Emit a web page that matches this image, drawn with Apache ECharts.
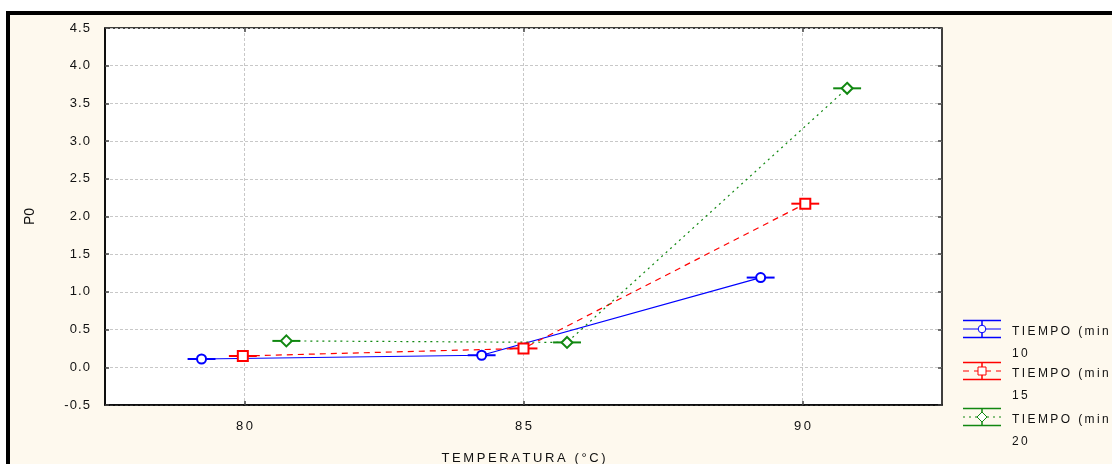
<!DOCTYPE html>
<html><head><meta charset="utf-8">
<script src="https://cdn.jsdelivr.net/npm/echarts@6/dist/echarts.min.js"></script>
<style>html,body{margin:0;padding:0;background:#fff}#c{width:1112px;height:464px}</style>
</head><body><div id="c"></div>
<script>
// ---- data ----
const legendLabel = 'TIEMPO (min';
const seriesLevels = ['10', '15', '20'];
const temp10 = [79.23, 84.25, 89.25];
const p10 = [0.11, 0.16, 1.19];
const temp15 = [79.97, 85.0, 90.05];
const p15 = [0.15, 0.25, 2.17];
const temp20 = [80.75, 85.78, 90.8];
const p20 = [0.35, 0.33, 3.70];
const errX10 = [0.25, 0.25, 0.25];
const errX15 = [0.25, 0.25, 0.25];
const errX20 = [0.25, 0.25, 0.25];
const xTickValues = [80, 85, 90];
const xTitle = 'TEMPERATURA (°C)';
const yTitle = 'P0';

// ---- helpers ----
function spaced(s, sp) { return String(s).split('').join(sp); }
const NBSP = '\u00A0', THIN = '\u2009', HAIR = '\u200A';
const FONT = 'Liberation Sans, Arial, sans-serif';
const FS = 13;
const TXT = '#111';
const colors = ['#0000ff', '#ff0000', '#118811'];
const lineTypes = ['solid', [6, 5], [2, 4]];
const symbols = ['emptyCircle', 'emptyRect', 'emptyDiamond'];
const symbolSizes = [9, 10, 11];
const temps = [temp10, temp15, temp20];
const ps = [p10, p15, p20];
const errs = [errX10, errX15, errX20];

const series = [];
for (let i = 0; i < 3; i++) {
  series.push({
    type: 'line',
    data: temps[i].map((x, k) => [x, ps[i][k]]),
    symbol: symbols[i], symbolSize: symbolSizes[i], showAllSymbol: true,
    lineStyle: { color: colors[i], width: 1.2, type: lineTypes[i] },
    itemStyle: { color: colors[i], borderWidth: 1 },
    z: 4, silent: true, animation: false
  });
  series.push({
    type: 'custom',
    data: temps[i].map((x, k) => [x, ps[i][k], errs[i][k]]),
    encode: { x: 0, y: 1 },
    renderItem: (params, api) => {
      const x = api.value(0), y = api.value(1), e = api.value(2);
      const a = api.coord([x - e, y]), b = api.coord([x + e, y]);
      return { type: 'line', shape: { x1: a[0], y1: a[1], x2: b[0], y2: b[1] },
        style: { stroke: colors[i], lineWidth: 2 } };
    },
    z: 3, silent: true, animation: false
  });
}

// legend drawn as graphics
const legendCenters = [329, 371, 417];
const graphics = [
  { type: 'rect', z: -10, shape: { x: 8, y: 13, width: 1200, height: 500 },
    style: { fill: '#fef9ee', stroke: '#000', lineWidth: 4 } }
];
for (let i = 0; i < 3; i++) {
  const c = legendCenters[i];
  graphics.push({ type: 'line', shape: { x1: 963, y1: c - 8.5, x2: 1001, y2: c - 8.5 }, style: { stroke: colors[i], lineWidth: 1.5 } });
  graphics.push({ type: 'line', shape: { x1: 963, y1: c + 8.5, x2: 1001, y2: c + 8.5 }, style: { stroke: colors[i], lineWidth: 1.5 } });
  graphics.push({ type: 'line', shape: { x1: 963, y1: c, x2: 1001, y2: c }, style: { stroke: colors[i], lineWidth: 1.2, lineDash: i === 0 ? null : lineTypes[i] } });
  graphics.push({ type: 'line', shape: { x1: 982, y1: c - 8.5, x2: 982, y2: c + 8.5 }, style: { stroke: colors[i], lineWidth: 1.5 } });
  if (i === 0) graphics.push({ type: 'circle', shape: { cx: 982, cy: c, r: 3.8 }, style: { fill: '#fff', stroke: colors[i], lineWidth: 1 } });
  if (i === 1) graphics.push({ type: 'rect', shape: { x: 978, y: c - 4, width: 8, height: 8 }, style: { fill: '#fff', stroke: colors[i], lineWidth: 1 } });
  if (i === 2) graphics.push({ type: 'polygon', shape: { points: [[982, c - 5], [987, c], [982, c + 5], [977, c]] }, style: { fill: '#fff', stroke: colors[i], lineWidth: 1 } });
  graphics.push({ type: 'text', x: 1012, y: c + 3, style: { text: spaced(legendLabel, THIN), font: '12px ' + FONT, fill: TXT, verticalAlign: 'middle' } });
  graphics.push({ type: 'text', x: 1012, y: c + 25, style: { text: spaced(seriesLevels[i], THIN), font: '12px ' + FONT, fill: TXT, verticalAlign: 'middle' } });
}

const chart = echarts.init(document.getElementById('c'), null, { renderer: 'canvas' });
const gridLine = { show: true, lineStyle: { color: '#c8c8c8', type: [3, 2], width: 1 } };
const tickStyle = { show: true, inside: true, length: 4, lineStyle: { color: '#444', width: 1.5 } };
chart.setOption({
  animation: false,
  backgroundColor: '#ffffff',
  textStyle: { fontFamily: FONT },
  graphic: { elements: graphics },
  grid: { left: 105, top: 28, right: 170, bottom: 59, show: true, containLabel: false, outerBoundsMode: 'none',
    backgroundColor: '#ffffff', borderColor: '#000', borderWidth: 1.5 },
  xAxis: [{
    type: 'value', min: 77.5, max: 92.5, position: 'bottom',
    name: spaced(xTitle, THIN), nameLocation: 'middle', nameGap: 47,
    nameTextStyle: { fontSize: FS, color: TXT, fontFamily: FONT },
    axisLine: { show: true, onZero: false, lineStyle: { color: '#000', width: 1.5 } },
    axisTick: Object.assign({ customValues: xTickValues }, tickStyle),
    axisLabel: { customValues: xTickValues, formatter: v => spaced(v, THIN), fontSize: FS, color: TXT, margin: 15 },
    splitLine: gridLine
  }, {
    type: 'value', min: 77.5, max: 92.5, position: 'top',
    axisLine: { show: false, onZero: false }, axisLabel: { show: false }, splitLine: { show: false },
    axisTick: Object.assign({ customValues: xTickValues }, tickStyle)
  }],
  yAxis: [{
    type: 'value', min: -0.5, max: 4.5, interval: 0.5, position: 'left',
    name: yTitle, nameLocation: 'middle', nameGap: 68, nameRotate: 90,
    nameTextStyle: { fontSize: 14, color: TXT, fontFamily: FONT },
    axisLine: { show: true, onZero: false, lineStyle: { color: '#000', width: 1.5 } },
    axisTick: tickStyle,
    axisLabel: { formatter: v => spaced(v.toFixed(1), HAIR), fontSize: FS, color: TXT, margin: 15 },
    splitLine: gridLine
  }, {
    type: 'value', min: -0.5, max: 4.5, interval: 0.5, position: 'right',
    axisLine: { show: false, onZero: false }, axisLabel: { show: false }, splitLine: { show: false },
    axisTick: tickStyle
  }],
  series: series
});
</script></body></html>
